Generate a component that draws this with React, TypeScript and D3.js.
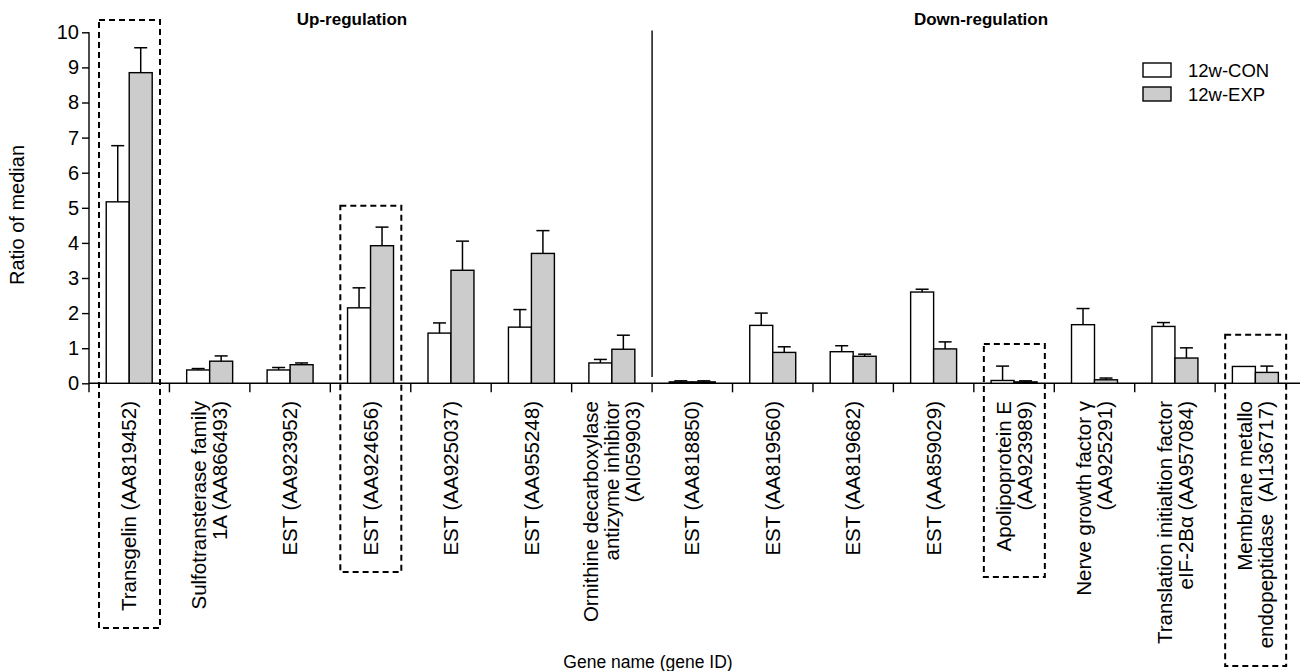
import * as d3 from "d3";
import { useEffect, useRef } from "react";

// gene labels, one entry per group ("\n" splits the rotated lines)
const genes = [
  "Transgelin (AA819452)",
  "Sulfotransterase family\n1A (AA866493)",
  "EST (AA923952)",
  "EST (AA924656)",
  "EST (AA925037)",
  "EST (AA955248)",
  "Ornithine decarboxylase\nantizyme inhibitor\n(AI059903)",
  "EST (AA818850)",
  "EST (AA819560)",
  "EST (AA819682)",
  "EST (AA859029)",
  "Apolipoprotein E\n(AA923989)",
  "Nerve growth factor \u03b3\n(AA925291)",
  "Translation initialtion factor\neIF-2B\u03b1 (AA957084)",
  "Membrane metallo\nendopeptidase  (AI136717)",
];

const series = ["12w-CON", "12w-EXP"];
const conMean = [5.17, 0.38, 0.38, 2.15, 1.43, 1.6, 0.58, 0.04, 1.65, 0.9, 2.6, 0.08, 1.67, 1.62, 0.48];
const conSd = [1.6, 0.04, 0.07, 0.57, 0.29, 0.5, 0.1, 0.03, 0.35, 0.17, 0.08, 0.41, 0.46, 0.11, 0];
const expMean = [8.85, 0.63, 0.53, 3.92, 3.22, 3.7, 0.97, 0.04, 0.88, 0.77, 0.98, 0.04, 0.1, 0.72, 0.31];
const expSd = [0.71, 0.15, 0.05, 0.53, 0.83, 0.65, 0.4, 0.03, 0.16, 0.06, 0.2, 0.03, 0.05, 0.29, 0.18];
const yTicks = [0, 1, 2, 3, 4, 5, 6, 7, 8, 9, 10];

// dashed boxes around highlighted genes: top in data units
const boxGenes = [0, 3, 11, 14];
const boxTop = [10.35, 5.06, 1.12, 1.38];
const boxBottom = [628, 572, 577, 666];

const W = 1302;
const H = 671;
const FONT = "'Liberation Sans', Arial, sans-serif";

export default function App() {
  const ref = useRef<SVGSVGElement>(null);

  useEffect(() => {
    const svg = d3.select(ref.current);
    svg.selectAll("*").remove();

    const y = d3.scaleLinear().domain([0, 10]).range([383.3, 32.3]);
    const x = d3.scaleBand<number>().domain(d3.range(genes.length)).range([89, 89 + 15 * 80.44]);
    const inner = d3.scaleBand<string>().domain(series).range([0, x.bandwidth()]).paddingOuter(0.75);

    const data = genes.map((g, i) => [
      { s: series[0], v: conMean[i], e: conSd[i], i },
      { s: series[1], v: expMean[i], e: expSd[i], i },
    ]).flat();

    // titles
    svg.append("text").attr("x", 352).attr("y", 25).attr("text-anchor", "middle")
      .style("font", `bold 17px ${FONT}`).text("Up-regulation");
    svg.append("text").attr("x", 981).attr("y", 25).attr("text-anchor", "middle")
      .style("font", `bold 17px ${FONT}`).text("Down-regulation");

    // y axis
    const ya = svg.append("g").attr("transform", "translate(89,0)")
      .call(d3.axisLeft(y).tickValues(yTicks).tickSize(7).tickPadding(3).tickFormat(d3.format("d")));
    ya.select(".domain").attr("d", `M0,${y(0)}V${y(10)}`).attr("stroke-width", 1.4);
    ya.selectAll("line").attr("stroke-width", 1.4);
    ya.selectAll("text").style("font", `20px ${FONT}`).attr("fill", "#000");

    svg.append("text").attr("transform", "translate(24,215) rotate(-90)").attr("text-anchor", "middle")
      .style("font", `20px ${FONT}`).text("Ratio of median");

    // x axis line and ticks at group boundaries
    svg.append("line").attr("x1", 89).attr("x2", 1300).attr("y1", y(0)).attr("y2", y(0))
      .attr("stroke", "#000").attr("stroke-width", 1.4);
    svg.selectAll(".xtick").data(d3.range(genes.length)).enter().append("line")
      .attr("class", "xtick")
      .attr("x1", d => x(d)!).attr("x2", d => x(d)!)
      .attr("y1", y(0)).attr("y2", y(0) + 9)
      .attr("stroke", "#000").attr("stroke-width", 1.4);

    // separator between up and down regulation
    const sep = x(7)!;
    svg.append("line").attr("x1", sep).attr("x2", sep).attr("y1", y(10.05)).attr("y2", y(0.18))
      .attr("stroke", "#000").attr("stroke-width", 1.4);

    // bars
    svg.selectAll(".bar").data(data).enter().append("rect")
      .attr("class", "bar")
      .attr("x", d => x(d.i)! + inner(d.s)!)
      .attr("width", inner.bandwidth())
      .attr("y", d => y(d.v))
      .attr("height", d => y(0) - y(d.v))
      .attr("fill", d => (d.s === series[0] ? "#ffffff" : "#cccccc"))
      .attr("stroke", "#000").attr("stroke-width", 1.4);

    // error bars (upper only)
    const cap = 6.5;
    const err = svg.selectAll(".err").data(data.filter(d => d.e > 0)).enter().append("g").attr("class", "err");
    err.append("line")
      .attr("x1", d => x(d.i)! + inner(d.s)! + inner.bandwidth() / 2)
      .attr("x2", d => x(d.i)! + inner(d.s)! + inner.bandwidth() / 2)
      .attr("y1", d => y(d.v)).attr("y2", d => y(d.v + d.e))
      .attr("stroke", "#000").attr("stroke-width", 1.5);
    err.append("line")
      .attr("x1", d => x(d.i)! + inner(d.s)! + inner.bandwidth() / 2 - cap)
      .attr("x2", d => x(d.i)! + inner(d.s)! + inner.bandwidth() / 2 + cap)
      .attr("y1", d => y(d.v + d.e)).attr("y2", d => y(d.v + d.e))
      .attr("stroke", "#000").attr("stroke-width", 1.5);

    // rotated gene labels
    const lh = 21;
    genes.forEach((g, i) => {
      const lines = g.split("\n");
      const cx = x(i)! + x.bandwidth() / 2;
      lines.forEach((ln, k) => {
        const px = cx + (k - (lines.length - 1) / 2) * lh;
        svg.append("text")
          .attr("transform", `translate(${px},401) rotate(-90)`)
          .attr("text-anchor", "end").attr("dy", "0.35em")
          .style("font", `20.5px ${FONT}`).style("white-space", "pre")
          .text(ln);
      });
    });

    svg.append("text").attr("x", 648).attr("y", 668).attr("text-anchor", "middle")
      .style("font", `17.5px ${FONT}`).text("Gene name (gene ID)");

    // dashed highlight boxes
    boxGenes.forEach((gi, k) => {
      svg.append("rect")
        .attr("x", x(gi)! + 10).attr("width", 61)
        .attr("y", y(boxTop[k])).attr("height", boxBottom[k] - y(boxTop[k]))
        .attr("fill", "none").attr("stroke", "#000").attr("stroke-width", 2)
        .attr("stroke-dasharray", "6,4");
    });

    // legend
    const lg = svg.append("g").attr("transform", "translate(1143,63)");
    series.forEach((s, k) => {
      lg.append("rect").attr("x", 0).attr("y", k * 24).attr("width", 28).attr("height", 14)
        .attr("fill", k === 0 ? "#ffffff" : "#cccccc").attr("stroke", "#000").attr("stroke-width", 1.4);
      lg.append("text").attr("x", 45).attr("y", k * 24 + 14)
        .style("font", `18.5px ${FONT}`).text(s);
    });
  }, []);

  return (
    <div style={{ position: "absolute", left: 0, top: 0 }}>
      <svg ref={ref} width={W} height={H} style={{ display: "block", background: "#fff" }} />
    </div>
  );
}
